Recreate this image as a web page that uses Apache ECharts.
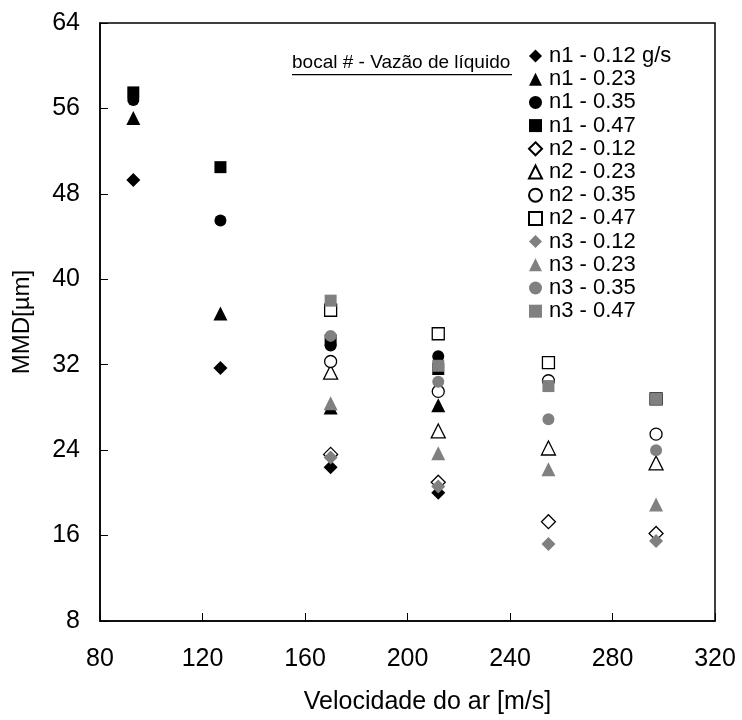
<!DOCTYPE html>
<html><head><meta charset="utf-8">
<script src="https://cdn.jsdelivr.net/npm/echarts@6/dist/echarts.min.js"></script>
<style>html,body{margin:0;padding:0;background:#fff}#c{width:742px;height:720px}</style>
</head><body><div id="c"></div>
<script>
const xN1 = [93, 127, 170, 212];
const xN23 = [170, 212, 255, 297];
const n1_012 = [49.3, 31.7, 22.4, 20.0];
const n1_023 = [55.1, 36.8, 28.0, 28.2];
const n1_035 = [56.8, 45.5, 33.8, 32.8];
const n1_047 = [57.5, 50.5, 34.3, 31.6];
const n2_012 = [23.6, 21.0, 17.3, 16.2];
const n2_023 = [31.3, 25.8, 24.2, 22.8];
const n2_035 = [32.3, 29.5, 30.5, 25.5];
const n2_047 = [37.1, 34.9, 32.2, 28.8];
const n3_012 = [23.3, 20.6, 15.2, 15.5];
const n3_023 = [28.4, 23.7, 22.2, 18.9];
const n3_035 = [34.7, 30.4, 26.9, 24.0];
const n3_047 = [38.0, 31.9, 30.0, 28.8];
const seriesNames = ['n1 - 0.12 g/s','n1 - 0.23','n1 - 0.35','n1 - 0.47','n2 - 0.12','n2 - 0.23','n2 - 0.35','n2 - 0.47','n3 - 0.12','n3 - 0.23','n3 - 0.35','n3 - 0.47'];
const xTicks = [80, 120, 160, 200, 240, 280, 320];
const yTicks = [8, 16, 24, 32, 40, 48, 56, 64];

const FONT = '"Liberation Sans", Arial, sans-serif';
const symbols = ['diamond','triangle','circle','rect'];
const sizes = {diamond:14, triangle:14, circle:12, rect:12};
const groups = [
  {x: xN1, vals: [n1_012, n1_023, n1_035, n1_047], fill: '#000000', border: '#000000'},
  {x: xN23, vals: [n2_012, n2_023, n2_035, n2_047], fill: '#ffffff', border: '#000000'},
  {x: xN23, vals: [n3_012, n3_023, n3_035, n3_047], fill: '#808080', border: '#808080'}
];
const series = [];
groups.forEach((g, gi) => {
  g.vals.forEach((v, k) => {
    const sym = symbols[k];
    series.push({
      name: seriesNames[gi*4+k],
      type: 'scatter',
      symbol: sym,
      symbolSize: sizes[sym],
      data: v.map((y, i) => [g.x[i], y]),
      itemStyle: {color: g.fill, borderColor: g.border, borderWidth: gi === 1 ? 1.3 : 0, opacity: 1},
      emphasis: {disabled: true},
      z: 2 + gi
    });
  });
});

const chart = echarts.init(document.getElementById('c'), null, {renderer: 'canvas'});
chart.setOption({
  animation: false,
  backgroundColor: '#ffffff',
  textStyle: {fontFamily: FONT},
  grid: {left: 100, right: 27, top: 23, bottom: 98, show: true, borderColor: '#000', borderWidth: 1.5},
  xAxis: {
    type: 'value', min: xTicks[0], max: xTicks[xTicks.length-1], interval: 40,
    name: 'Velocidade do ar [m/s]', nameLocation: 'middle', nameGap: 69,
    nameTextStyle: {fontSize: 25, color: '#000', fontFamily: FONT, padding: [0, 0, 0, 40]},
    axisLine: {show: true, lineStyle: {color: '#000', width: 1.5}},
    axisTick: {show: true, inside: true, length: 8, lineStyle: {color: '#000', width: 1}},
    axisLabel: {fontSize: 25, color: '#000', margin: 26, fontFamily: FONT},
    splitLine: {show: false}
  },
  yAxis: {
    type: 'value', min: yTicks[0], max: yTicks[yTicks.length-1], interval: 8,
    name: 'MMD[µm]', nameLocation: 'middle', nameGap: 66,
    nameTextStyle: {fontSize: 24, color: '#000', fontFamily: FONT},
    axisLine: {show: true, lineStyle: {color: '#000', width: 1.5}},
    axisTick: {show: true, inside: true, length: 8, lineStyle: {color: '#000', width: 1}},
    axisLabel: {fontSize: 25, color: '#000', margin: 20, fontFamily: FONT},
    splitLine: {show: false}
  },
  legend: {
    orient: 'vertical', left: 523, top: 40,
    itemWidth: 13, itemHeight: 13, itemGap: 1.2,
    textStyle: {fontSize: 22, color: '#000', fontFamily: FONT, padding: [0,0,0,2]},
    data: seriesNames,
    selectedMode: false
  },
  graphic: [
    {type: 'text', left: 292, top: 53, style: {text: 'bocal # - Vazão de líquido', font: '19px ' + FONT, fill: '#000'}},
    {type: 'rect', left: 292, top: 74, shape: {width: 220, height: 1.2}, style: {fill: '#000'}}
  ],
  series: series
});
</script></body></html>
